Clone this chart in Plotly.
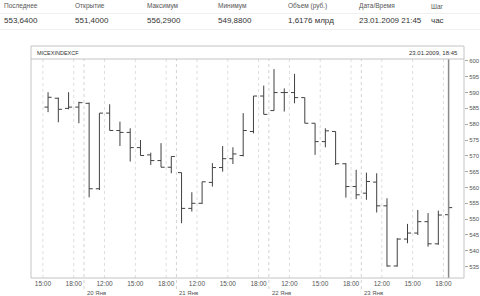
import plotly.graph_objects as go

# ---- data (hourly bars, 19-23 Jan 2009) ----
bar_idx = list(range(40))
opens = [585.4, 588.2, 585.0, 585.4,
         586.6, 559.6, 583.5, 578.0, 577.4, 572.6, 570.3, 568.5, 566.4,
         564.7, 553.4, 555.0, 561.6, 566.3, 569.1, 570.1, 577.7, 588.9,
         584.3, 590.0, 590.0, 588.4, 580.3, 574.5, 577.7, 567.5, 560.3,
         558.2, 561.7, 554.2, 535.2, 543.7, 545.6, 549.2, 542.2, 551.40]
highs = [590.1, 588.4, 590.1, 587.1,
         586.8, 583.5, 586.3, 580.8, 578.7, 575.0, 571.0, 574.0, 569.8,
         564.7, 558.5, 561.8, 567.7, 573.1, 572.7, 583.5, 588.9, 592.2,
         597.4, 591.3, 595.9, 588.4, 580.3, 578.7, 577.7, 567.7, 565.6,
         564.7, 564.5, 556.6, 544.0, 548.5, 552.9, 551.9, 552.7, 556.29]
lows = [583.8, 580.6, 584.7, 580.3,
        556.9, 559.2, 578.0, 573.1, 568.2, 570.1, 567.1, 566.4, 564.5,
        548.7, 552.4, 554.8, 560.3, 565.0, 567.4, 569.8, 577.1, 583.1,
        584.3, 584.0, 586.6, 580.3, 570.3, 572.7, 567.1, 556.8, 556.3,
        556.1, 552.1, 535.0, 535.0, 542.4, 545.0, 541.3, 541.9, 549.88]
closes = [588.5, 584.7, 585.4, 586.8,
          559.6, 583.5, 578.0, 577.4, 572.6, 570.1, 568.5, 566.4, 569.8,
          553.4, 555.0, 561.8, 566.3, 569.1, 570.6, 578.0, 588.9, 583.1,
          590.0, 590.0, 588.4, 580.3, 574.5, 577.9, 567.5, 560.3, 557.7,
          561.9, 554.2, 535.2, 543.7, 545.6, 549.2, 542.2, 551.3, 553.64]

tick_pos = [-0.5, 2.5, 5.5, 8.5, 11.5, 14.5, 17.5, 20.5, 23.5, 26.5, 29.5, 32.5, 35.5, 38.5]
tick_text = ["15:00", "18:00", "12:00", "15:00", "18:00", "12:00", "15:00", "18:00",
             "12:00", "15:00", "18:00", "12:00", "15:00", "18:00"]
day_pos = [3.5, 12.5, 21.5, 30.5]
day_text = ["20 Янв", "21 Янв", "22 Янв", "23 Янв"]
y_ticks = list(range(535, 601, 5))

hdr_labels = ["Последнее", "Открытие", "Максимум", "Минимум", "Объем (руб.)", "Дата/Время", "Шаг"]
hdr_values = ["553,6400", "551,4000", "556,2900", "549,8800", "1,6176 млрд", "23.01.2009 21:45", "час"]
hdr_x = [2, 73, 145, 216, 286, 357, 429]

W, H = 480, 296
def px(X): return X / W
def py(Y): return 1 - Y / H

FONT = "Liberation Sans"
BAR = "#404040"

fig = go.Figure(go.Ohlc(
    x=bar_idx, open=opens, high=highs, low=lows, close=closes,
    increasing=dict(line=dict(color=BAR, width=1)),
    decreasing=dict(line=dict(color=BAR, width=1)),
    tickwidth=0.35, hoverinfo="skip"))

shapes = []
for t in tick_pos:
    shapes.append(dict(type="line", xref="x", yref="paper", x0=t, x1=t,
                       y0=py(278), y1=py(59), line=dict(color="#dedede", width=1, dash="dot")))
for d in day_pos:
    shapes.append(dict(type="line", xref="x", yref="paper", x0=d, x1=d,
                       y0=py(289), y1=py(59), line=dict(color="#d2d2d2", width=1, dash="dot")))
# cursor on last bar
shapes.append(dict(type="line", xref="x", yref="paper", x0=bar_idx[-1], x1=bar_idx[-1],
                   y0=py(278), y1=py(59), line=dict(color="#8a8a8a", width=1.5)))
# frame
shapes.append(dict(type="rect", xref="paper", yref="paper", x0=px(31), x1=px(464),
                   y0=py(278), y1=py(46), line=dict(color="#c4c4c4", width=1)))
shapes.append(dict(type="line", xref="paper", yref="paper", x0=px(31), x1=px(464),
                   y0=py(59), y1=py(59), line=dict(color="#c4c4c4", width=1)))
# header separators
for yy in (13.5, 29.5):
    shapes.append(dict(type="line", xref="paper", yref="paper", x0=0, x1=1,
                       y0=py(yy), y1=py(yy), line=dict(color="#f0f0f0", width=1)))

ann = []
for lab, val, xx in zip(hdr_labels, hdr_values, hdr_x):
    ann.append(dict(text=lab, x=px(xx), y=py(6), xref="paper", yref="paper", xanchor="left",
                    yanchor="middle", showarrow=False, font=dict(family=FONT, size=6.5, color="#555")))
    ann.append(dict(text=val, x=px(xx), y=py(20.5), xref="paper", yref="paper", xanchor="left",
                    yanchor="middle", showarrow=False, font=dict(family=FONT, size=8, color="#333")))
ann.append(dict(text="MICEXINDEXCF", x=px(35), y=py(53), xref="paper", yref="paper",
                xanchor="left", yanchor="middle", showarrow=False,
                font=dict(family=FONT, size=5.5, color="#333")))
ann.append(dict(text="23.01.2009, 18:45", x=px(460), y=py(53), xref="paper", yref="paper",
                xanchor="right", yanchor="middle", showarrow=False,
                font=dict(family=FONT, size=6, color="#333")))
for d, t in zip(day_pos, day_text):
    ann.append(dict(text=t, x=d, y=py(292.5), xref="x", yref="paper", xanchor="left",
                    xshift=1, yanchor="middle", showarrow=False,
                    font=dict(family=FONT, size=6, color="#555")))

fig.update_layout(
    width=W, height=H, margin=dict(l=0, r=0, t=0, b=0),
    paper_bgcolor="white", plot_bgcolor="white", showlegend=False,
    shapes=shapes, annotations=ann,
    xaxis=dict(domain=[px(31), px(464)], range=[-1.66, 40.5], rangeslider=dict(visible=False),
               tickmode="array", tickvals=tick_pos, ticktext=tick_text, showgrid=False,
               zeroline=False, showline=False, ticks="",
               tickfont=dict(family=FONT, size=6.5, color="#555")),
    yaxis=dict(domain=[py(278), py(59)], range=[531.4, 600.6], side="right",
               tickmode="array", tickvals=y_ticks, showgrid=False, zeroline=False,
               showline=False, ticks="outside", ticklen=3, tickcolor="#aaa",
               tickfont=dict(family=FONT, size=6, color="#555")),
)

fig.write_html("out.html", config={"displayModeBar": False})
